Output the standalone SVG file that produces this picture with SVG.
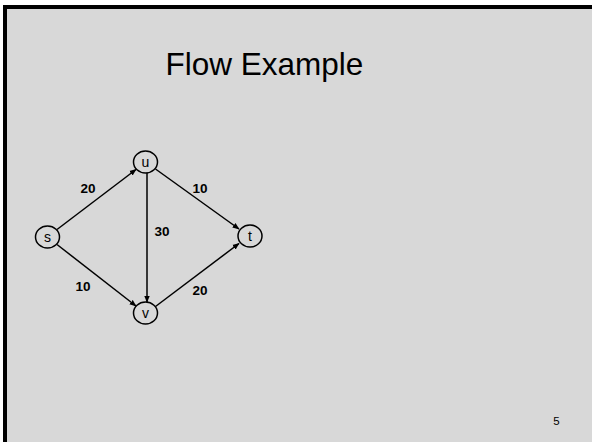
<svg xmlns="http://www.w3.org/2000/svg" width="592" height="442" viewBox="0 0 592 442">
<defs>
<style>
.node{fill:none;stroke:#000;stroke-width:1.5}
.nl{font-family:"Liberation Sans",Arial,sans-serif;font-size:14px;text-anchor:middle;fill:#000}
.el{font-family:"Liberation Sans",Arial,sans-serif;font-size:13.5px;font-weight:bold;text-anchor:middle;fill:#000}
.edge{stroke:#000;stroke-width:1.5;fill:none;marker-end:url(#ah)}
</style>
<marker id="ah" viewBox="0 0 10 10" refX="9" refY="5" markerWidth="7" markerHeight="7" orient="auto" markerUnits="userSpaceOnUse">
<path d="M0,1 L10,5 L0,9 z" fill="#000"/>
</marker>
</defs>
<rect x="0" y="0" width="592" height="442" fill="#fff"/>
<rect x="3" y="5" width="589" height="437" fill="#000"/>
<rect x="7" y="9" width="585" height="433" fill="#d8d8d8"/>
<text x="264.5" y="75" font-family="'Liberation Sans',Arial,sans-serif" font-size="31.5" text-anchor="middle" fill="#000">Flow Example</text>
<g id="connectors">
<line class="edge" x1="57" y1="229.5" x2="136" y2="169.5"/>
<line class="edge" x1="57" y1="244.5" x2="136" y2="306"/>
<line class="edge" x1="155.5" y1="169" x2="239" y2="229"/>
<line class="edge" x1="155.5" y1="306.5" x2="239" y2="243.5"/>
<line class="edge" x1="147" y1="173" x2="147" y2="302"/>
<text class="el" x="88" y="192.5">20</text>
<text class="el" x="200" y="192.5">10</text>
<text class="el" x="162" y="235.5">30</text>
<text class="el" x="83" y="290.5">10</text>
<text class="el" x="200" y="294.5">20</text>
</g>
<g id="node-s"><ellipse class="node" cx="47.5" cy="237" rx="12" ry="11"/><text class="nl" x="47.5" y="242">s</text></g>
<g id="node-u"><ellipse class="node" cx="145.5" cy="162" rx="12" ry="11"/><text class="nl" x="145.5" y="167">u</text></g>
<g id="node-t"><ellipse class="node" cx="250" cy="236" rx="12" ry="11"/><text class="nl" x="250" y="241">t</text></g>
<g id="node-v"><ellipse class="node" cx="145.5" cy="313" rx="12" ry="11"/><text class="nl" x="145.5" y="318">v</text></g>
<text x="556.5" y="424.5" font-family="'Liberation Sans',Arial,sans-serif" font-size="11.5" text-anchor="middle" fill="#000">5</text>
</svg>
